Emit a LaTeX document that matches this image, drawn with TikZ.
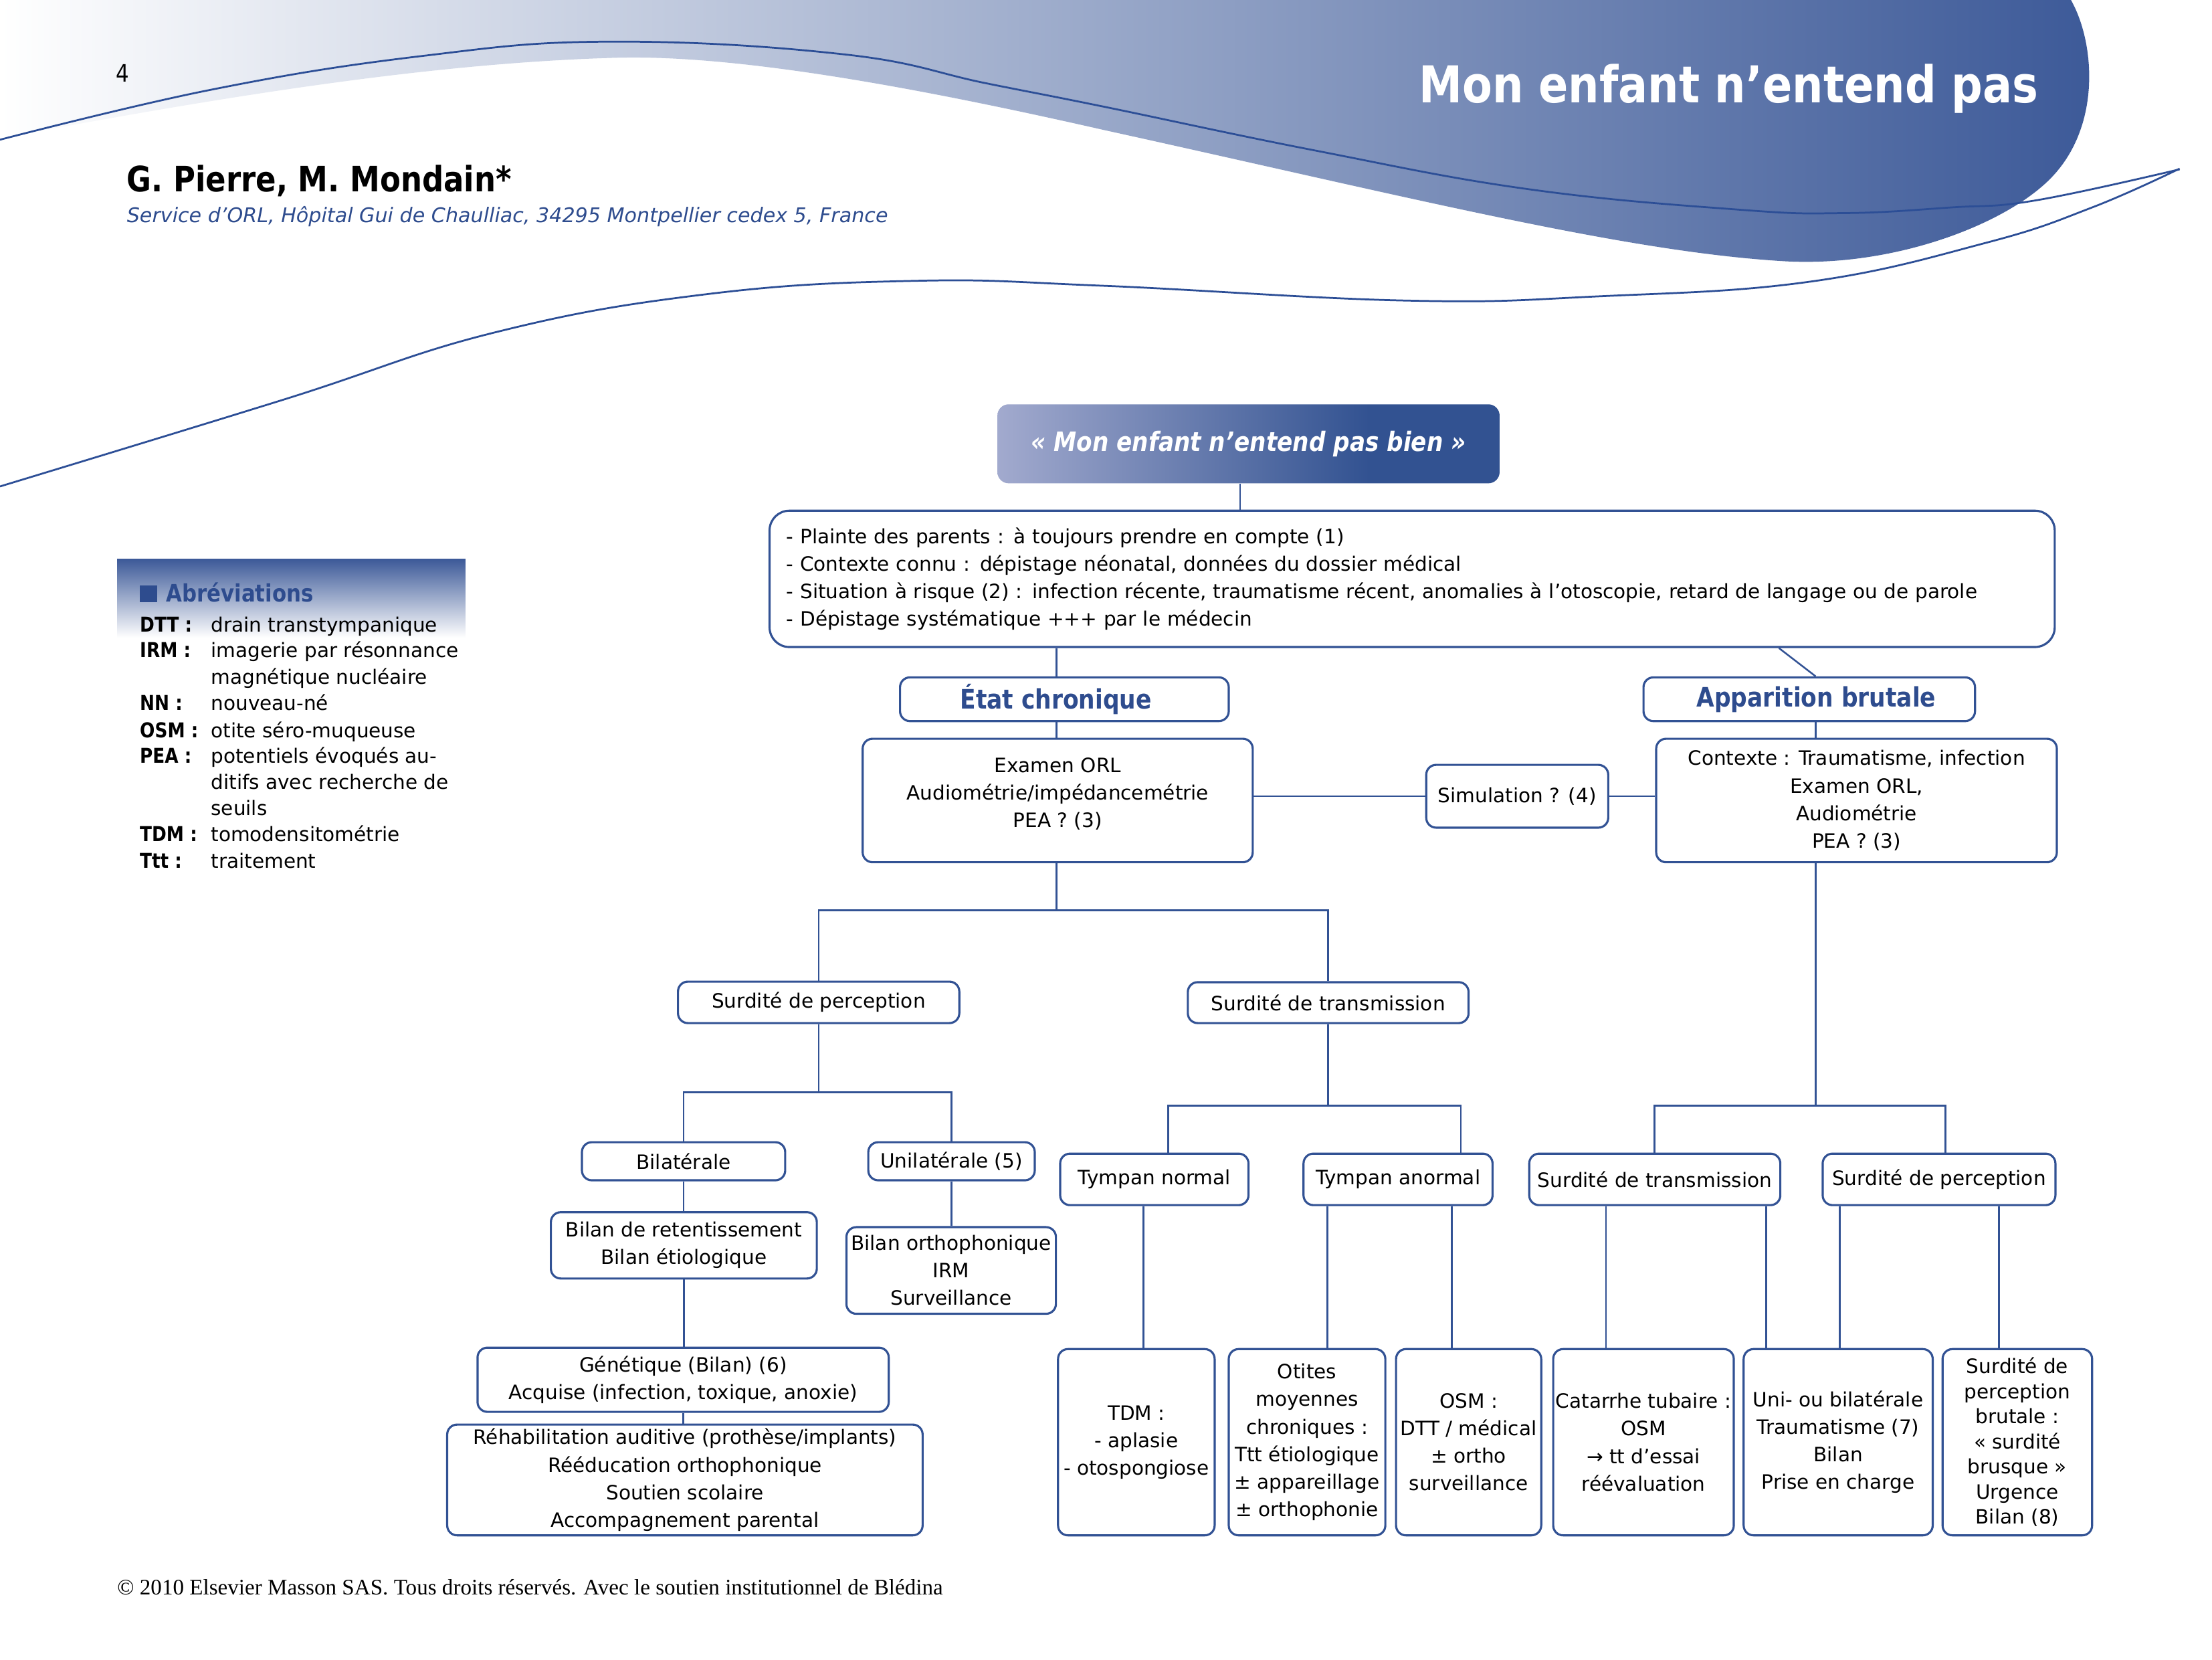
\documentclass[tikz,border=0pt]{standalone}
\usepackage{fontspec}
\setmainfont{DejaVu Sans}
\newfontfamily\cond{DejaVu Sans}[FakeStretch=0.86]
\newfontfamily\footf{Liberation Serif}
\usetikzlibrary{calc}
\definecolor{nblue}{RGB}{50,82,148}
\definecolor{hblue}{RGB}{60,89,152}
\definecolor{tblue}{RGB}{46,76,142}
\definecolor{rootL}{RGB}{162,170,206}
\definecolor{rootR}{RGB}{50,82,145}
\definecolor{lineblue}{RGB}{44,78,150}
\pgfdeclarehorizontalshading{rootshade}{100bp}{color(0bp)=(rootL); color(25bp)=(rootL); color(62bp)=(rootR); color(100bp)=(rootR)}
\newcommand\bxf{\fontsize{14}{19.5}\selectfont}
\newcommand\mkbox[7][]{\node[box,#1,minimum width=#5-#3,minimum height=#6-#4] (#2) at ({(#3+#5)/2},{(#4+#6)/2}) {#7};}
\begin{document}
\begin{tikzpicture}[x=1pt,y=-1pt,
  box/.style={draw=nblue,line width=1.5pt,rounded corners=7pt,fill=white,inner sep=0pt,align=center,font=\bxf,text=black},
  head/.style={font=\cond\bfseries\fontsize{19}{22}\selectfont,text=tblue},
  conn/.style={draw=nblue,line width=1.2pt},
  hline/.style={draw=lineblue,line width=1.3pt},
  abl/.style={anchor=base west,inner sep=0pt,font=\cond\fontsize{14.5}{16}\selectfont\bfseries},
  abd/.style={anchor=base west,inner sep=0pt,font=\fontsize{14}{16}\selectfont},
]
\useasboundingbox (0,0) rectangle (1568,1176);
\fill[white] (0,0) rectangle (1568,1176);
% header band
\shade[left color=white, right color=hblue]
 (0,0) -- (1468,0)
 .. controls (1485,30) and (1490,90) .. (1453,127)
 .. controls (1420,160) and (1340,190) .. (1263,185)
 .. controls (1150,178) and (1000,140) .. (782,92)
 .. controls (650,62) and (520,38) .. (434,41)
 .. controls (300,45) and (150,70) .. (0,98) -- cycle;
\draw[hline] plot[smooth,tension=0.7] coordinates {(0,99)(150,63.5)(299,39.7)(434,29.5)(599,38.6)(699,59)(782,75.5)(932,106.6)(1083,134)(1233,148.6)(1308,151)(1383,147)(1443,142)(1545,120)};
\draw[hline] plot[smooth,tension=0.7] coordinates {(0,344.7)(200,283.5)(349,236)(499,208.7)(649,199)(782,202.5)(997,213)(1133,210)(1283,199.6)(1408,172)(1483,147)(1545,119.5)};
\node[anchor=base west,inner sep=0pt,font=\cond\fontsize{17}{20}\selectfont] (pnum) at (82,58) {4};
\node[anchor=base east,inner sep=0pt,text=white,font=\cond\bfseries\fontsize{36}{40}\selectfont] (title) at (1445,72.6) {Mon enfant n’entend pas};
\node[anchor=base west,inner sep=0pt,font=\cond\bfseries\fontsize{24.8}{28}\selectfont] (auth) at (89.8,136) {G. Pierre, M. Mondain*};
\node[anchor=base west,inner sep=0pt,text=tblue,font=\itshape\fontsize{14.3}{17}\selectfont] (affil) at (89.8,157.6) {Service d’ORL, Hôpital Gui de Chaulliac, 34295 Montpellier cedex 5, France};
% abbreviations
\shade[top color=hblue, middle color=hblue!40, bottom color=white] (83,396) rectangle (330,452);
\fill[tblue] (99,414.7) rectangle (111.3,426.5);
\node[anchor=base west,inner sep=0pt,text=tblue,font=\cond\bfseries\fontsize{17}{20}\selectfont] (abhead) at (117.6,426.5) {Abréviations};
\node[abl] (l1) at (99,447.8) {DTT :};   \node[abd] (d1) at (149.4,447.8) {drain transtympanique};
\node[abl] (l2) at (99,466) {IRM :};     \node[abd] (d2) at (149.4,466) {imagerie par résonnance};
                                          \node[abd] (d3) at (149.4,484.7) {magnétique nucléaire};
\node[abl] (l4) at (99,503.1) {NN :};    \node[abd] (d4) at (149.4,503.1) {nouveau-né};
\node[abl] (l5) at (99,522.5) {OSM :};   \node[abd] (d5) at (149.4,522.5) {otite séro-muqueuse};
\node[abl] (l6) at (99,540.6) {PEA :};   \node[abd] (d6) at (149.4,540.6) {potentiels évoqués au-};
                                          \node[abd] (d7) at (149.4,559.4) {ditifs avec recherche de};
                                          \node[abd] (d8) at (149.4,577.5) {seuils};
\node[abl] (l9) at (99,596.3) {TDM :};   \node[abd] (d9) at (149.4,596.3) {tomodensitométrie};
\node[abl] (l10) at (99,615.2) {Ttt :};  \node[abd] (d10) at (149.4,615.2) {traitement};
% flowchart nodes
\node[shade,shading=rootshade,rounded corners=8pt,minimum width=356,minimum height=56,inner sep=0pt,text=white,font=\cond\bfseries\itshape\fontsize{18.9}{21}\selectfont] (root) at (885,314.5) {« Mon enfant n’entend pas bien »};
\node[box,rounded corners=14pt,align=left,text width=887,inner xsep=12pt,minimum height=96.6] (info) at (1001,410.2) {- Plainte des parents : à toujours prendre en compte (1)\\- Contexte connu : dépistage néonatal, données du dossier médical\\- Situation à risque (2) : infection récente, traumatisme récent, anomalies à l’otoscopie, retard de langage ou de parole\\- Dépistage systématique +++ par le médecin};
\mkbox[head]{etat}{638}{480}{871}{511}{État chronique\hspace*{12pt}}
\mkbox[head]{app}{1165}{480}{1400}{511}{\hspace*{10pt}Apparition brutale}
\mkbox{examen}{611.5}{523.5}{888}{611}{Examen ORL\\Audiométrie/impédancemétrie\\PEA ? (3)\\[-8pt]\mbox{}}
\mkbox{simul}{1011}{542}{1140}{586.5}{Simulation ? (4)}
\mkbox{contexte}{1174}{523.5}{1458}{611}{Contexte : Traumatisme, infection\\Examen ORL,\\Audiométrie\\PEA ? (3)}
\mkbox{sdp}{480.6}{695.6}{680}{725}{Surdité de perception}
\mkbox{sdt}{842}{696}{1041}{725}{Surdité de transmission}
\mkbox{bil}{412.5}{809.4}{556.6}{836.4}{Bilatérale}
\mkbox{uni}{615.5}{809.4}{733.5}{836.4}{Unilatérale (5)}
\mkbox{bilan}{390.5}{859}{579}{906}{Bilan de retentissement\\Bilan étiologique}
\mkbox{bortho}{600}{869.6}{748.5}{931}{Bilan orthophonique\\IRM\\Surveillance}
\mkbox{gen}{338.5}{955}{630}{1000.5}{Génétique (Bilan) (6)\\Acquise (infection, toxique, anoxie)}
\mkbox{rehab}{317}{1009.5}{654}{1088}{Réhabilitation auditive (prothèse/implants)\\Rééducation orthophonique\\Soutien scolaire\\Accompagnement parental}
\mkbox{tn}{751.5}{817.5}{885}{854}{Tympan normal}
\mkbox{ta}{924}{817.5}{1058}{854}{Tympan anormal}
\mkbox{sdt2}{1084}{817.5}{1262}{854}{Surdité de transmission}
\mkbox{sdp2}{1292}{817.5}{1457}{854}{Surdité de perception}
\mkbox{tdm}{750}{956}{861}{1088}{TDM :\\- aplasie\\- otospongiose}
\mkbox{otites}{871}{956}{982}{1088}{Otites\\moyennes\\chroniques :\\Ttt étiologique\\± appareillage\\± orthophonie}
\mkbox{osm}{989.6}{956}{1092.5}{1088}{OSM :\\DTT / médical\\± ortho\\surveillance}
\mkbox{cat}{1101}{956}{1229}{1088}{Catarrhe tubaire :\\OSM\\→ tt d’essai\\réévaluation}
\mkbox{unib}{1236}{956}{1370}{1088}{Uni- ou bilatérale\\Traumatisme (7)\\Bilan\\Prise en charge}
\mkbox[font=\fontsize{14}{17.8}\selectfont]{sdpb}{1377}{956}{1483}{1088}{Surdité de\\perception\\brutale :\\« surdité\\brusque »\\Urgence\\Bilan (8)}
% connectors
\coordinate (c879) at (879,0);
\coordinate (c749) at (749,0);
\coordinate (c1261) at (1261,0);
\coordinate (c1287) at (1287,0);
\draw[conn] (c879 |- root.south) -- (c879 |- info.north);
\draw[conn] (c749 |- info.south) -- (c749 |- etat.north);
\draw[conn] (c749 |- etat.south) -- (c749 |- examen.north);
\draw[conn] (c1261 |- info.south) -- (c1287 |- app.north);
\draw[conn] (c1287 |- app.south) -- (c1287 |- contexte.north);
\draw[conn] (simul.west -| examen.east) -- (simul.west);
\draw[conn] (simul.east) -- (simul.east -| contexte.west);
\coordinate (j1) at (749,645);
\draw[conn] (c749 |- examen.south) -- (j1);
\draw[conn] (j1) -| (sdp.north);
\draw[conn] (j1) -| (sdt.north);
\coordinate (j2) at (580.3,774);
\draw[conn] (sdp.south) -- (j2);
\draw[conn] (j2) -| (bil.north);
\draw[conn] (j2) -| (uni.north);
\draw[conn] (bil.south) -- (bil.south |- bilan.north);
\draw[conn] (uni.south) -- (uni.south |- bortho.north);
\draw[conn] (bilan.south) -- (bilan.south |- gen.north);
\draw[conn] (gen.south) -- (gen.south |- rehab.north);
\coordinate (j3l) at (828,783.5);
\coordinate (j3r) at (1035.6,783.5);
\draw[conn] (sdt.south) -- (sdt.south |- j3l);
\draw[conn] (j3l |- tn.north) -- (j3l) -- (j3r) -- (j3r |- ta.north);
\coordinate (j4l) at (1172.7,783.5);
\coordinate (j4r) at (1379,783.5);
\draw[conn] (c1287 |- contexte.south) -- (c1287 |- j4l);
\draw[conn] (j4l |- sdt2.north) -- (j4l) -- (j4r) -- (j4r |- sdp2.north);
\foreach \xx/\a/\b in {810.6/tn/tdm, 941/ta/otites, 1029/ta/osm, 1138.5/sdt2/cat, 1252/sdt2/unib, 1304/sdp2/unib, 1417/sdp2/sdpb} {
  \coordinate (cc) at (\xx,0);
  \draw[conn] (cc |- \a.south) -- (cc |- \b.north);
}
\node[anchor=base west,inner sep=0pt,font=\footf\fontsize{15.7}{18}\selectfont] (foot) at (83,1130) {© 2010 Elsevier Masson SAS. Tous droits réservés. Avec le soutien institutionnel de Blédina};
\end{tikzpicture}
\end{document}
